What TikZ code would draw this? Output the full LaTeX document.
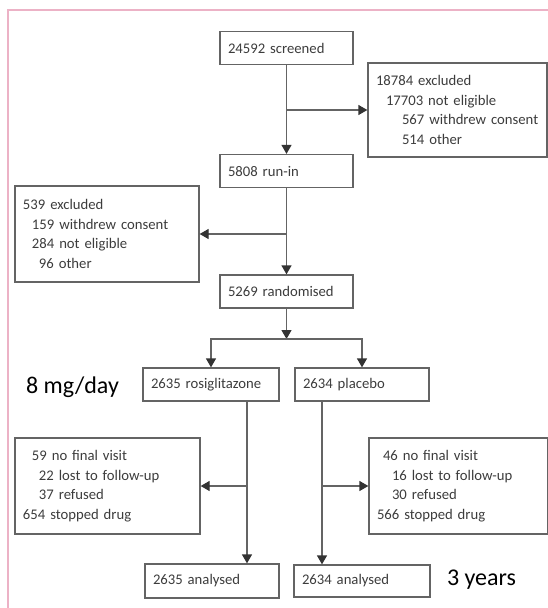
\documentclass[tikz,border=0pt]{standalone}
\usepackage{fontspec}
\setmainfont{Carlito}
\usetikzlibrary{calc, positioning, arrows.meta}
\definecolor{FrameRose}{RGB}{236, 178, 198}
\definecolor{LineGrey}{RGB}{100, 100, 100}
\definecolor{InkGrey}{RGB}{60, 60, 60}

\begin{document}
\begin{tikzpicture}[x=1pt, y=-1pt,
    flowbox/.style={draw=LineGrey, line width=1.3pt, text=InkGrey, font=\fontsize{14.7}{19.5}\selectfont, inner xsep=8pt, inner ysep=0pt, minimum height=33pt, align=left},
    arr/.style={draw=LineGrey, line width=1.3pt, -{Triangle[length=9pt, width=10pt, color=black!80]}},
    note/.style={font=\fontsize{24}{28}\selectfont, text=black}]
    \useasboundingbox (0,0) rectangle (548,608);
    \clip (0,0) rectangle (548,608);
    % marco
    \draw[FrameRose, line width=1.5pt] (8,640) -- (8,10) -- (580,10);

    % cribado
    \node[flowbox, text width=117pt] (screened) at (286.5,48) {\mbox{24592 screened}};
    \node[flowbox, text width=163pt, minimum height=94pt] (excl1) at (457.5,110)
        {\mbox{18784 excluded}\\ \mbox{\hspace*{10pt}17703 not eligible}\\ \mbox{\hspace*{26pt}567 withdrew consent}\\ \mbox{\hspace*{26pt}514 other}};
    \node[flowbox, text width=117pt] (runin) at (286.5,171) {\mbox{5808 run-in}};
    \node[flowbox, text width=168pt, minimum height=96pt] (excl2) at (107,234)
        {\mbox{539 excluded}\\ \mbox{\hspace*{9pt}159 withdrew consent}\\ \mbox{\hspace*{9pt}284 not eligible}\\ \mbox{\hspace*{16pt}96 other}};
    \node[flowbox, text width=117pt] (rand) at (286.5,291.5) {\mbox{5269 randomised}};
    \coordinate (split) at (286.5,339);

    % brazos
    \node[flowbox, text width=120pt] (rosi) at (211,384.5) {\mbox{2635 rosiglitazone}};
    \node[flowbox, text width=118pt] (plac) at (362,384.5) {\mbox{2634 placebo}};
    \node[flowbox, text width=169pt, minimum height=96pt] (lost1) at (107.5,486)
        {\mbox{\hspace*{9pt}59 no final visit}\\ \mbox{\hspace*{16pt}22 lost to follow-up}\\ \mbox{\hspace*{16pt}37 refused}\\ \mbox{654 stopped drug}};
    \node[flowbox, text width=163pt, minimum height=96pt] (lost2) at (458.5,486)
        {\mbox{\hspace*{6pt}46 no final visit}\\ \mbox{\hspace*{15pt}16 lost to follow-up}\\ \mbox{\hspace*{15pt}30 refused}\\ \mbox{566 stopped drug}};
    \node[flowbox, text width=118pt, minimum height=34pt] (ana1) at (212,581) {\mbox{2635 analysed}};
    \node[flowbox, text width=120pt, minimum height=32pt] (ana2) at (362,581) {\mbox{2634 analysed}};

    \node[note] (dose) at (72.5,387) {8 mg/day};
    \node[note] (span) at (481.5,580) {3 years};

    % flechas
    \draw[arr] (screened) -- (runin);
    \draw[arr] (screened.south |- excl1.west) -- (excl1.west);
    \draw[arr] (runin) -- (rand);
    \draw[arr] (runin.south |- excl2.east) -- (excl2.east);
    \draw[arr] (rand) -- (split);
    \draw[arr] (split) -| (rosi);
    \draw[arr] (split) -| (plac);
    \draw[arr] ([xshift=36pt]rosi.south) -- ([xshift=36pt]rosi.south |- ana1.north);
    \draw[arr] ([xshift=36pt]rosi.south |- lost1.east) -- (lost1.east);
    \draw[arr] ([xshift=-40pt]plac.south) -- ([xshift=-40pt]plac.south |- ana2.north);
    \draw[arr] ([xshift=-40pt]plac.south |- lost2.west) -- (lost2.west);
\end{tikzpicture}
\end{document}
